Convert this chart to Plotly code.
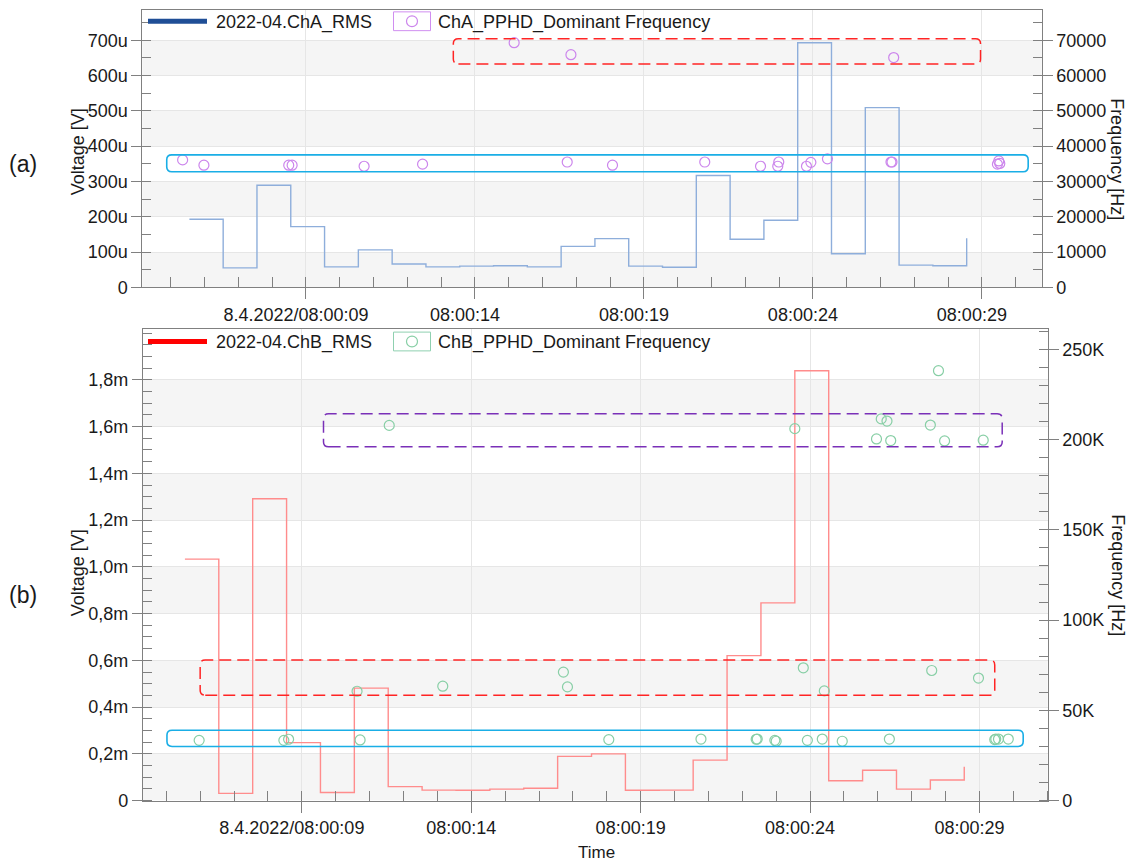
import plotly.graph_objects as go

W, H = 1134, 863
FONT = "Liberation Sans, Arial, sans-serif"
TXT = "#1a1a1a"
AXC = "#808080"
GRID = "#e6e6e6"
BAND = "#f5f5f5"
FS = 18

# ---------------- data ----------------
# step RMS values, one per second (seconds after 08:00:00)
rms_t = [5.55, 6.55, 7.55, 8.55, 9.55, 10.55, 11.55, 12.55, 13.55, 14.55, 15.55, 16.55,
         17.55, 18.55, 19.55, 20.55, 21.55, 22.55, 23.55, 24.55, 25.55, 26.55, 27.55, 28.55]
chA_rms_uV = [193, 55, 289, 172, 58, 106, 66, 58, 60, 61, 58, 116,
              138, 60, 57, 317, 136, 190, 693, 95, 509, 63, 61, 139]
chB_rms_mV = [1.033, 0.031, 1.291, 0.248, 0.035, 0.481, 0.060, 0.045, 0.044, 0.049, 0.053, 0.189,
              0.200, 0.044, 0.045, 0.173, 0.620, 0.846, 1.839, 0.085, 0.130, 0.049, 0.088, 0.145]

# dominant frequency events
chA_f_t = [5.35, 5.98, 8.49, 8.59, 10.72, 12.45, 15.16, 16.73, 16.84, 18.07, 20.80, 22.45,
           22.96, 22.99, 23.81, 23.94, 24.43, 26.31, 26.34, 26.39, 29.46, 29.50, 29.53]
chA_f_hz = [36100, 34600, 34600, 34600, 34300, 34900, 69300, 35500, 65900, 34600, 35500, 34300,
            34300, 35500, 34300, 35400, 36400, 35500, 35500, 65100, 34900, 35800, 35100]

chB_f_t = [5.97, 8.47, 8.61, 10.63, 10.72, 11.58, 13.16, 16.72, 16.84, 18.06, 20.78, 22.41,
           22.44, 22.96, 23.00, 23.55, 23.80, 23.92, 24.36, 24.42, 24.95, 25.96, 26.10, 26.27,
           26.34, 26.38, 27.55, 27.59, 27.79, 27.97, 28.97, 29.11, 29.45, 29.48, 29.56, 29.85]
chB_f_khz = [33.4, 33.4, 34.0, 60.6, 33.6, 207.9, 63.4, 71.2, 63.0, 33.8, 34.1, 34.0,
             34.1, 33.4, 32.9, 206.1, 73.6, 33.4, 34.1, 60.8, 32.9, 200.4, 211.5, 210.3,
             34.1, 199.5, 208.1, 72.1, 238.2, 199.3, 67.9, 199.7, 33.8, 34.1, 34.1, 34.1]

series_names = ["2022-04.ChA_RMS", "ChA_PPHD_Dominant Frequency",
                "2022-04.ChB_RMS", "ChB_PPHD_Dominant Frequency"]

time_ticks = [9, 14, 19, 24, 29]
time_labels = ["8.4.2022/08:00:09", "08:00:14", "08:00:19", "08:00:24", "08:00:29"]

va_ticks_uV = [0, 100, 200, 300, 400, 500, 600, 700]
va_labels = ["0", "100u", "200u", "300u", "400u", "500u", "600u", "700u"]
fa_ticks = [0, 10000, 20000, 30000, 40000, 50000, 60000, 70000]
fa_labels = ["0", "10000", "20000", "30000", "40000", "50000", "60000", "70000"]

vb_ticks_mV = [0, 0.2, 0.4, 0.6, 0.8, 1.0, 1.2, 1.4, 1.6, 1.8]
vb_labels = ["0", "0,2m", "0,4m", "0,6m", "0,8m", "1,0m", "1,2m", "1,4m", "1,6m", "1,8m"]
fb_ticks_k = [0, 50, 100, 150, 200, 250]
fb_labels = ["0", "50K", "100K", "150K", "200K", "250K"]

# ---------------- helpers ----------------
def pxx(x):
    return x / W


def pxy(y):
    return 1 - y / H


def rounded_box(x0, x1, y0, y1, rx, ry):
    return (f"M{x0 + rx},{y0} L{x1 - rx},{y0} Q{x1},{y0} {x1},{y0 + ry} "
            f"L{x1},{y1 - ry} Q{x1},{y1} {x1 - rx},{y1} L{x0 + rx},{y1} "
            f"Q{x0},{y1} {x0},{y1 - ry} L{x0},{y0 + ry} Q{x0},{y0} {x0 + rx},{y0} Z")


fig = go.Figure()

# ---------------- traces ----------------
fig.add_trace(go.Scatter(
    x=rms_t, y=[v * 1e-6 for v in chA_rms_uV], mode="lines", line_shape="hv",
    line=dict(color="#8eaedb", width=1.4), name=series_names[0], showlegend=False,
    xaxis="x", yaxis="y"))
fig.add_trace(go.Scatter(
    x=chA_f_t, y=chA_f_hz, mode="markers", name=series_names[1], showlegend=False,
    marker=dict(symbol="circle-open", size=10, color="#cc86ec", line=dict(width=1.2)),
    xaxis="x", yaxis="y2"))
fig.add_trace(go.Scatter(
    x=rms_t, y=[v * 1e-3 for v in chB_rms_mV], mode="lines", line_shape="hv",
    line=dict(color="#ff8c8c", width=1.4), name=series_names[2], showlegend=False,
    xaxis="x2", yaxis="y3"))
fig.add_trace(go.Scatter(
    x=chB_f_t, y=[v * 1e3 for v in chB_f_khz], mode="markers", name=series_names[3],
    showlegend=False,
    marker=dict(symbol="circle-open", size=10, color="#88cfa6", line=dict(width=1.2)),
    xaxis="x2", yaxis="y4"))

# ---------------- axes ----------------
tickfont = dict(family=FONT, size=FS, color=TXT)


def x_axis(domain, rng, anchor):
    return dict(domain=domain, range=rng, anchor=anchor, tickmode="array",
                tickvals=time_ticks, ticktext=time_labels, ticks="outside", ticklen=11,
                tickcolor=AXC, tickfont=tickfont, ticklabelshift=-10,
                showgrid=True, gridcolor=GRID,
                showline=True, linecolor=AXC, linewidth=1, mirror=True, zeroline=False,
                minor=dict(tickmode="linear", tick0=0, dtick=1, ticks="inside",
                           ticklen=10, tickcolor=AXC, showgrid=False))


def y_axis(domain, rng, anchor, tv, tt, minor_dtick, side="left", overlay=None, grid=True):
    d = dict(domain=domain, range=rng, anchor=anchor, side=side, tickmode="array",
             tickvals=tv, ticktext=tt, ticks="outside", ticklen=10, tickcolor=AXC,
             tickfont=tickfont, showgrid=grid, gridcolor=GRID, showline=True,
             linecolor=AXC, linewidth=1, zeroline=False,
             minor=dict(tickmode="linear", tick0=0, dtick=minor_dtick, ticks="inside",
                        ticklen=9, tickcolor=AXC, showgrid=False))
    if overlay:
        d["overlaying"] = overlay
    return d


top_x = [pxx(142.3), pxx(1041.7)]
top_y = [pxy(290.7), pxy(10)]
bot_x = [pxx(142.9), pxx(1047.6)]
bot_y = [pxy(810), pxy(332.7)]

va_max = 786e-6
fa_max = 78600
vb_max = 2.018e-3
fb_max = 261400

fig.update_layout(
    xaxis=x_axis(top_x, [4.157, 30.77], "y"),
    yaxis=y_axis(top_y, [0, va_max], "x", [v * 1e-6 for v in va_ticks_uV], va_labels, 50e-6),
    yaxis2=y_axis(top_y, [0, fa_max], "x", fa_ticks, fa_labels, 5000, side="right",
                  overlay="y", grid=False),
    xaxis2=x_axis(bot_x, [4.31, 31.01], "y3"),
    yaxis3=y_axis(bot_y, [0, vb_max], "x2", [v * 1e-3 for v in vb_ticks_mV], vb_labels, 0.05e-3),
    yaxis4=y_axis(bot_y, [0, fb_max], "x2", [v * 1e3 for v in fb_ticks_k], fb_labels, 10000,
                  side="right", overlay="y3", grid=False),
)

shapes = []

# alternating background bands
for lo in [0, 200, 400, 600]:
    shapes.append(dict(type="rect", xref="x domain", yref="y", x0=0, x1=1,
                       y0=lo * 1e-6, y1=(lo + 100) * 1e-6, fillcolor=BAND,
                       line=dict(width=0), layer="below"))
for lo in [0, 0.4, 0.8, 1.2, 1.6]:
    shapes.append(dict(type="rect", xref="x2 domain", yref="y3", x0=0, x1=1,
                       y0=lo * 1e-3, y1=(lo + 0.2) * 1e-3, fillcolor=BAND,
                       line=dict(width=0), layer="below"))

# highlight boxes around frequency clusters
rx = 0.15
shapes += [
    dict(type="path", xref="x", yref="y2",
         path=rounded_box(13.36, 28.96, 63280, 70390, rx, 1400),
         line=dict(color="#ff2424", width=1.5, dash="12px,6px")),
    dict(type="path", xref="x", yref="y2",
         path=rounded_box(4.88, 30.37, 32760, 37520, rx, 1400),
         line=dict(color="#1aaee6", width=1.6)),
    dict(type="path", xref="x2", yref="y4",
         path=rounded_box(6.0, 29.45, 58400, 77900, rx, 2700),
         line=dict(color="#ff2424", width=1.5, dash="12px,6px")),
    dict(type="path", xref="x2", yref="y4",
         path=rounded_box(9.64, 29.67, 196000, 214300, rx, 2700),
         line=dict(color="#7a30b8", width=1.5, dash="12px,6px")),
    dict(type="path", xref="x2", yref="y4",
         path=rounded_box(5.02, 30.29, 30000, 39000, rx, 2700),
         line=dict(color="#1aaee6", width=1.6)),
]

# legend symbols
legend_rows = [
    (21.5, "#1f4e96", "#d08ef0", "#cc86ec", series_names[0], series_names[1]),
    (345.5, "#ff0000", "#8fd0b0", "#88cfa6", series_names[2], series_names[3]),
]
annotations = []
for yc, line_col, box_col, mk_col, n1, n2 in legend_rows:
    shapes.append(dict(type="line", xref="paper", yref="paper", x0=pxx(148), x1=pxx(207),
                       y0=pxy(yc), y1=pxy(yc), line=dict(color=line_col, width=5)))
    shapes.append(dict(type="rect", xref="paper", yref="paper", x0=pxx(393.5), x1=pxx(430.5),
                       y0=pxy(yc - 9.5), y1=pxy(yc + 9.5), line=dict(color=box_col, width=1)))
    shapes.append(dict(type="circle", xref="paper", yref="paper", x0=pxx(406.5), x1=pxx(417.5),
                       y0=pxy(yc - 5.5), y1=pxy(yc + 5.5), line=dict(color=mk_col, width=1.2)))
    annotations.append(dict(text=n1, x=pxx(214), y=pxy(yc + 1), xref="paper", yref="paper",
                            xanchor="left", yanchor="middle", showarrow=False,
                            font=dict(family=FONT, size=FS, color=TXT)))
    annotations.append(dict(text=n2, x=pxx(436), y=pxy(yc + 1), xref="paper", yref="paper",
                            xanchor="left", yanchor="middle", showarrow=False,
                            font=dict(family=FONT, size=FS, color=TXT)))

# axis titles and panel labels
def label(text, x, y, angle=0, size=FS, yanchor="middle"):
    return dict(text=text, x=pxx(x), y=pxy(y), xref="paper", yref="paper",
                xanchor="center", yanchor=yanchor, showarrow=False, textangle=angle,
                borderpad=0, font=dict(family=FONT, size=size, color=TXT))


annotations += [
    label("Voltage [V]", 78, 154, -90),
    label("Voltage [V]", 78, 580, -90),
    label("Frequency [Hz]", 1117, 161, 90),
    label("Frequency [Hz]", 1118, 582, 90),
    label("Time", 596, 873, size=17, yanchor="bottom"),
    label("(a)", 23, 166, 0, 23),
    label("(b)", 23, 602, 0, 23),
]

fig.update_layout(
    width=W, height=H, autosize=False,
    margin=dict(l=0, r=0, t=0, b=0),
    paper_bgcolor="white", plot_bgcolor="white",
    showlegend=False,
    shapes=shapes, annotations=annotations,
    font=dict(family=FONT, size=FS, color=TXT),
)

fig.write_html("out.html")
